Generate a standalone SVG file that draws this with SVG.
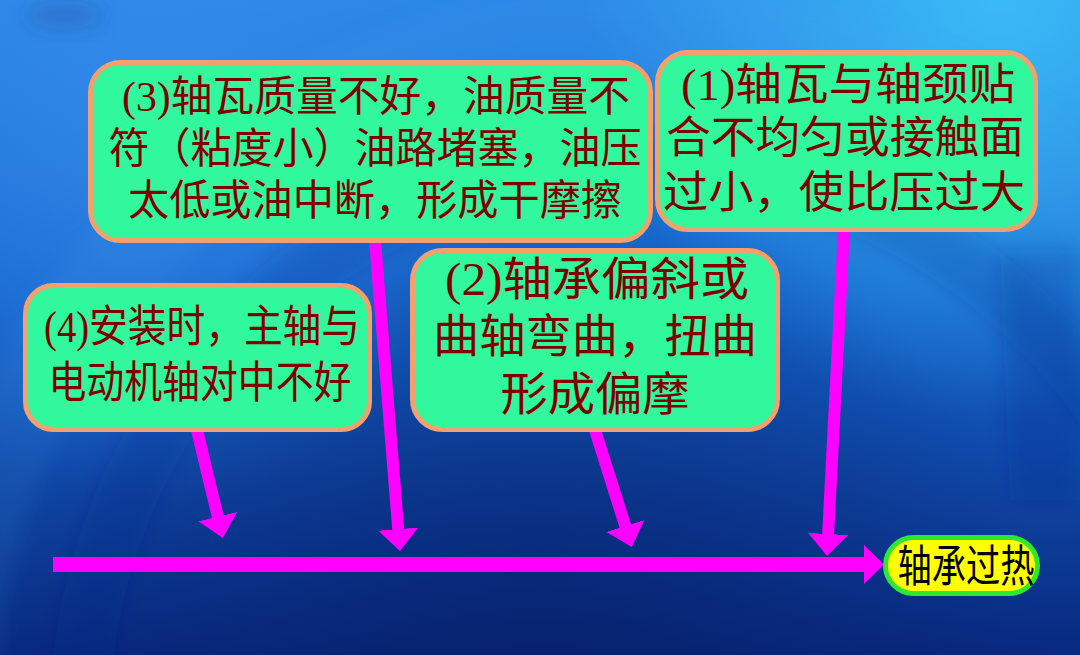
<svg xmlns="http://www.w3.org/2000/svg" width="1080" height="655" viewBox="0 0 1080 655">
  <defs>
    <linearGradient id="bg" x1="0" y1="0" x2="0" y2="1">
      <stop offset="0" stop-color="#2a86e6"/>
      <stop offset="0.45" stop-color="#1564cc"/>
      <stop offset="1" stop-color="#08297f"/>
    </linearGradient>
    <radialGradient id="hiR" cx="1000" cy="0" r="420" gradientUnits="userSpaceOnUse">
      <stop offset="0" stop-color="#3cc0f8" stop-opacity="0.9"/>
      <stop offset="1" stop-color="#3cc0f8" stop-opacity="0"/>
    </radialGradient>
    <radialGradient id="hiL" cx="150" cy="120" r="380" gradientUnits="userSpaceOnUse">
      <stop offset="0" stop-color="#3a90ee" stop-opacity="0.6"/>
      <stop offset="1" stop-color="#3a90ee" stop-opacity="0"/>
    </radialGradient>
    <radialGradient id="darkB" cx="540" cy="700" r="520" gradientUnits="userSpaceOnUse">
      <stop offset="0" stop-color="#061e66" stop-opacity="0.7"/>
      <stop offset="1" stop-color="#061e66" stop-opacity="0"/>
    </radialGradient>
    <filter id="soft" x="-50%" y="-50%" width="200%" height="200%">
      <feGaussianBlur stdDeviation="10"/>
    </filter>
    <marker id="head" markerUnits="userSpaceOnUse" markerWidth="22" markerHeight="40" viewBox="0 0 22 40" refX="1" refY="20" orient="auto">
      <path d="M0,0 L22,20 L0,40 Z" fill="#ff00ff"/>
    </marker>
    <style>
      .box { fill: #31f89c; stroke: #f2a06e; stroke-width: 5; }
      .res { fill: #ffff00; stroke: #2ee82e; stroke-width: 5; }
      .t { font-family: "Liberation Serif", "Noto Sans CJK SC", serif; fill: #800000; text-anchor: middle; dominant-baseline: central; }
      .rt { font-family: "Noto Sans CJK SC", sans-serif; fill: #000000; text-anchor: middle; dominant-baseline: central; }
      .arr { stroke: #ff00ff; stroke-width: 12; fill: none; marker-end: url(#head); }
    </style>
  </defs>

  <!-- background -->
  <rect x="0" y="0" width="1080" height="655" fill="url(#bg)"/>
  <rect x="0" y="0" width="1080" height="655" fill="url(#hiR)"/>
  <rect x="0" y="0" width="1080" height="655" fill="url(#hiL)"/>
  <rect x="0" y="0" width="1080" height="655" fill="url(#darkB)"/>
  <circle cx="640" cy="720" r="690" fill="none" stroke="#4aa8f0" stroke-opacity="0.12" stroke-width="90" filter="url(#soft)"/>
  <circle cx="640" cy="720" r="560" fill="none" stroke="#0a2f8a" stroke-opacity="0.18" stroke-width="60" filter="url(#soft)"/>
  <path d="M1000,250 L1080,250 L1080,500 L1010,500 Z" fill="#0a2f8a" fill-opacity="0.2" filter="url(#soft)"/>
  <ellipse cx="65" cy="15" rx="40" ry="14" fill="#1a3f90" fill-opacity="0.25" filter="url(#soft)"/>

  <!-- connectors -->
  <g id="connectors">
    <line class="arr" x1="197" y1="430" x2="218" y2="517.6"/>
    <line class="arr" x1="375" y1="240" x2="398.3" y2="530.1"/>
    <line class="arr" x1="595" y1="430" x2="625.6" y2="527"/>
    <line class="arr" x1="844" y1="229" x2="828.1" y2="535"/>
    <path d="M53,557 L864,557 L864,545 L884,564.5 L864,584 L864,572 L53,572 Z" fill="#ff00ff"/>
  </g>

  <!-- nodes -->
  <g id="node3">
    <rect class="box" x="90.5" y="62.5" width="560" height="178" rx="30"/>
    <text class="t" x="376" y="97" font-size="42" textLength="508" lengthAdjust="spacingAndGlyphs">(3)轴瓦质量不好，油质量不</text>
    <text class="t" x="375" y="149" font-size="42" textLength="533" lengthAdjust="spacingAndGlyphs">符（粘度小）油路堵塞，油压</text>
    <text class="t" x="375" y="201" font-size="42" textLength="494" lengthAdjust="spacingAndGlyphs">太低或油中断，形成干摩擦</text>
  </g>
  <g id="node1">
    <rect class="box" x="657.5" y="52.5" width="378" height="177" rx="30"/>
    <text class="t" x="848" y="85" font-size="44" textLength="334" lengthAdjust="spacingAndGlyphs">(1)轴瓦与轴颈贴</text>
    <text class="t" x="845" y="138" font-size="44" textLength="358" lengthAdjust="spacingAndGlyphs">合不均匀或接触面</text>
    <text class="t" x="844" y="193" font-size="44" textLength="362" lengthAdjust="spacingAndGlyphs">过小，使比压过大</text>
  </g>
  <g id="node2">
    <rect class="box" x="412.5" y="250.5" width="365" height="179" rx="30"/>
    <text class="t" x="597" y="279" font-size="46" textLength="304" lengthAdjust="spacingAndGlyphs">(2)轴承偏斜或</text>
    <text class="t" x="595" y="336" font-size="46" textLength="324" lengthAdjust="spacingAndGlyphs">曲轴弯曲，扭曲</text>
    <text class="t" x="595" y="394" font-size="46" textLength="189" lengthAdjust="spacingAndGlyphs">形成偏摩</text>
  </g>
  <g id="node4">
    <rect class="box" x="25.5" y="285.5" width="344" height="144" rx="28"/>
    <text class="t" x="202" y="327" font-size="44" textLength="316" lengthAdjust="spacingAndGlyphs">(4)安装时，主轴与</text>
    <text class="t" x="200" y="383" font-size="44" textLength="303" lengthAdjust="spacingAndGlyphs">电动机轴对中不好</text>
  </g>
  <g id="result">
    <rect class="res" x="885.5" y="537.5" width="152" height="56" rx="28"/>
    <text class="rt" x="966" y="563" font-size="44" textLength="137" lengthAdjust="spacingAndGlyphs">轴承过热</text>
  </g>
</svg>
